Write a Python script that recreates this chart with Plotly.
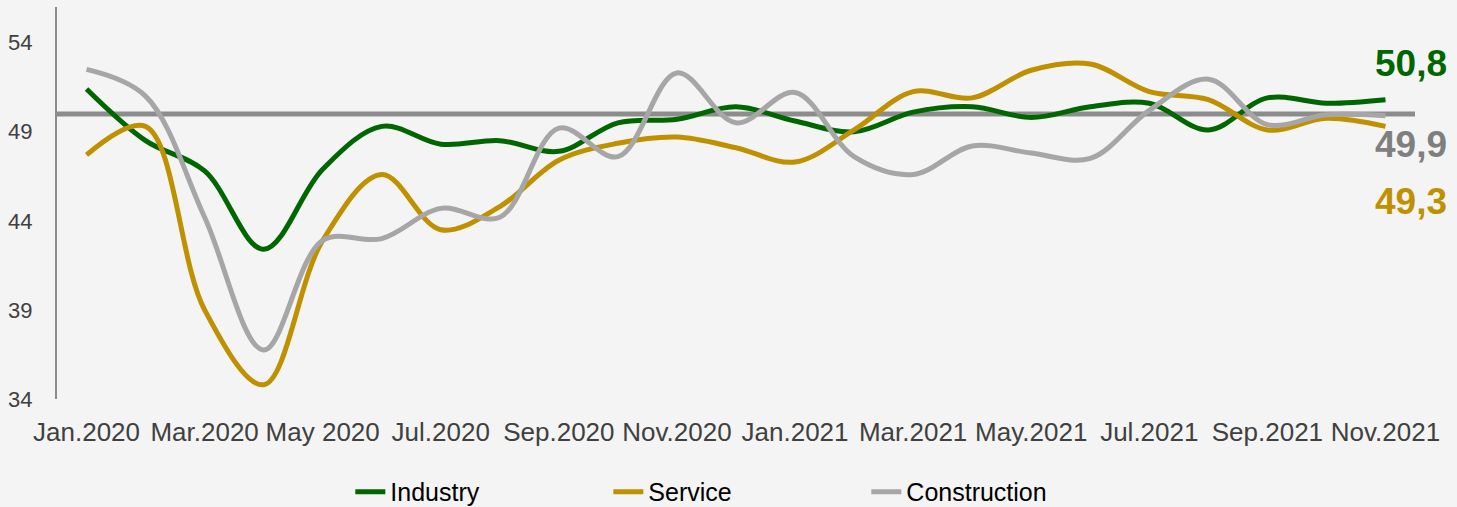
import plotly.graph_objects as go

months = ["Jan.2020", "Feb.2020", "Mar.2020", "Apr.2020", "May 2020", "Jun.2020",
          "Jul.2020", "Aug.2020", "Sep.2020", "Oct.2020", "Nov.2020", "Dec.2020",
          "Jan.2021", "Feb.2021", "Mar.2021", "Apr.2021", "May.2021", "Jun.2021",
          "Jul.2021", "Aug.2021", "Sep.2021", "Oct.2021", "Nov.2021"]
tick_labels = ["Jan.2020", "Mar.2020", "May 2020", "Jul.2020", "Sep.2020", "Nov.2020",
               "Jan.2021", "Mar.2021", "May.2021", "Jul.2021", "Sep.2021", "Nov.2021"]

industry = [51.4, 48.5, 46.8, 42.4, 46.9, 49.3, 48.3, 48.5, 47.9, 49.5, 49.7, 50.4,
            49.6, 49.0, 50.1, 50.4, 49.8, 50.4, 50.6, 49.1, 50.9, 50.6, 50.8]
service = [47.7, 49.3, 39.0, 34.8, 42.9, 46.6, 43.5, 44.8, 47.4, 48.35, 48.7, 48.1,
           47.3, 49.1, 51.25, 50.9, 52.45, 52.8, 51.25, 50.8, 49.1, 49.75, 49.3]
construction = [52.5, 51.0, 44.2, 36.75, 42.9, 43.0, 44.7, 44.2, 49.2, 47.6, 52.3, 49.5,
                51.2, 47.6, 46.6, 48.2, 47.8, 47.5, 50.2, 51.95, 49.4, 49.95, 49.9]
threshold = 50

series = [("Industry", industry, "#006600"),
          ("Service", service, "#BF9000"),
          ("Construction", construction, "#A6A6A6")]

fig = go.Figure()
for name, vals, col in series:
    fig.add_trace(go.Scatter(x=months, y=vals, name=name, mode="lines",
                             line=dict(color=col, width=5, shape="spline", smoothing=1.0)))

fig.add_shape(type="line", xref="x", yref="y", x0=-0.5, x1=22.5, y0=threshold, y1=threshold,
              line=dict(color="#8C8C8C", width=5), layer="below")

labels = [("50,8", "#006600", 0.857), ("49,9", "#7F7F7F", 0.648), ("49,3", "#BF9000", 0.503)]
for txt, col, yy in labels:
    fig.add_annotation(text=txt, xref="paper", yref="paper", x=0.997, y=yy,
                       xanchor="center", yanchor="middle", showarrow=False,
                       font=dict(family="Liberation Sans, Arial", size=37, color=col, weight="bold"))

fig.update_layout(
    width=1457, height=507,
    margin=dict(l=57, r=42, t=7, b=108, autoexpand=False),
    paper_bgcolor="#F4F4F4", plot_bgcolor="#F4F4F4",
    font=dict(family="Liberation Sans, Arial", color="#404040"),
    showlegend=True,
    legend=dict(orientation="h", x=0.216, xanchor="left", y=-0.237, yanchor="middle",
                entrywidth=213, entrywidthmode="pixels",
                font=dict(size=25, color="#000000"), bgcolor="rgba(0,0,0,0)"),
    xaxis=dict(type="category", range=[-0.5, 22.5], tickmode="array",
               tickvals=months[::2], ticktext=tick_labels, showgrid=False, automargin=False,
               zeroline=False, showline=False, ticks="", tickfont=dict(size=26, color="#404040"),
               ticklabelstandoff=15),
    yaxis=dict(range=[34, 56], tickmode="array", tickvals=[34, 39, 44, 49, 54],
               showgrid=False, zeroline=False, showline=True, linecolor="#8C8C8C",
               linewidth=2, ticks="", tickfont=dict(size=22, color="#404040"),
               ticklabelstandoff=18, automargin=False),
)

fig.write_html("out.html", config={"displayModeBar": False},
               post_script="document.body.style.margin='0';document.body.style.background='#F4F4F4';")
